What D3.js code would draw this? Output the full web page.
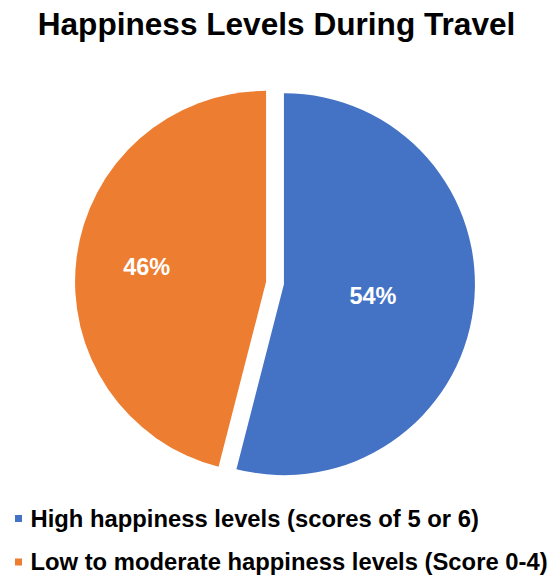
<!DOCTYPE html>
<html>
<head>
<meta charset="utf-8">
<script src="https://cdn.jsdelivr.net/npm/d3@7"></script>
<style>
  html, body { margin: 0; padding: 0; background: #fff; }
  svg { display: block; }
  text { font-family: "Liberation Sans", Arial, Helvetica, sans-serif; font-weight: bold; }
</style>
</head>
<body>
<svg id="chart" width="554" height="577"></svg>
<script>
// Survey share of travellers by happiness level
const categories = [
  "High happiness levels (scores of 5 or 6)",
  "Low to moderate happiness levels (Score 0-4)"
];
const values = [54, 46];
const colors = ["#4472C4", "#ED7D31"];
const title = "Happiness Levels During Travel";

const width = 554, height = 577;
const cx = 275, cy = 283, radius = 191;
const explode = 9;              // each slice is pulled outward a little
const labelFactor = [0.47, 0.63]; // label distance from slice centre, as share of radius

const svg = d3.select("#chart");

svg.append("text")
  .attr("x", 276.5)
  .attr("y", 34.5)
  .attr("text-anchor", "middle")
  .attr("font-size", 31.6)
  .attr("fill", "#000")
  .text(title);

const data = categories.map((c, i) => ({ category: c, value: values[i], color: colors[i] }));

const pie = d3.pie().value(d => d.value).sort(null);
const arcs = pie(data);
const arc = d3.arc().innerRadius(0).outerRadius(radius);

const g = svg.append("g").attr("transform", `translate(${cx},${cy})`);

const slice = g.selectAll("g.slice")
  .data(arcs)
  .join("g")
  .attr("class", "slice")
  .attr("transform", d => {
    const mid = (d.startAngle + d.endAngle) / 2;
    return `translate(${Math.sin(mid) * explode},${-Math.cos(mid) * explode})`;
  });

slice.append("path")
  .attr("d", arc)
  .attr("fill", d => d.data.color);

slice.append("text")
  .attr("transform", (d, i) => {
    const mid = (d.startAngle + d.endAngle) / 2;
    const r = radius * labelFactor[i];
    return `translate(${Math.sin(mid) * r},${-Math.cos(mid) * r})`;
  })
  .attr("text-anchor", "middle")
  .attr("dy", "0.36em")
  .attr("font-size", 23.5)
  .attr("fill", "#fff")
  .text(d => d.data.value + "%");

// Legend
const legend = svg.append("g").attr("transform", "translate(15,0)");
const rowY = [526.5, 570];
const item = legend.selectAll("g.item")
  .data(data)
  .join("g")
  .attr("class", "item")
  .attr("transform", (d, i) => `translate(0,${rowY[i]})`);

item.append("rect")
  .attr("x", 0)
  .attr("y", -11.5)
  .attr("width", 7)
  .attr("height", 7)
  .attr("fill", d => d.color);

item.append("text")
  .attr("x", 15.5)
  .attr("y", 0)
  .attr("font-size", 23.8)
  .attr("fill", "#000")
  .text(d => d.category);
</script>
</body>
</html>
